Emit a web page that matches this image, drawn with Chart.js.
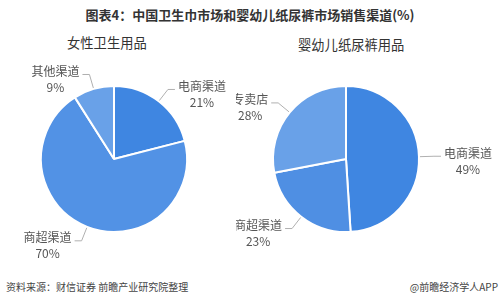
<!DOCTYPE html>
<html>
<head>
<meta charset="utf-8">
<script src="https://cdn.jsdelivr.net/npm/chart.js@4"></script>
<style>
  html, body { margin: 0; padding: 0; background: #fff; }
  body { width: 500px; height: 304px; position: relative; overflow: hidden;
         font-family: "Noto Sans CJK SC", "Noto Sans", sans-serif; color: #333; }
  .txt { position: absolute; white-space: nowrap; line-height: 1; }
  .box { position: absolute; top: 50px; height: 220px; }
</style>
</head>
<body>
<div class="txt" style="left:0;width:500px;text-align:center;top:8px;font-size:13px;font-weight:bold;color:#333;">图表4：中国卫生巾市场和婴幼儿纸尿裤市场销售渠道(%)</div>
<div class="txt" style="left:67px;top:36px;font-size:13.3px;color:#333;">女性卫生用品</div>
<div class="txt" style="left:298px;top:38px;font-size:13.3px;color:#333;">婴幼儿纸尿裤用品</div>
<div class="box" style="left:0;width:236px;"><canvas id="femaleChart"></canvas></div>
<div class="box" style="left:236px;width:264px;"><canvas id="babyChart"></canvas></div>
<div class="txt" style="left:6px;top:282px;font-size:10px;color:#444;">资料来源：财信证券 前瞻产业研究院整理</div>
<div class="txt" style="right:2px;top:282px;font-size:10px;color:#444;">@前瞻经济学人APP</div>
<script>
// 女性卫生用品
const femaleLabels = ["电商渠道", "商超渠道", "其他渠道"];
const femaleValues = [21, 70, 9];
// 婴幼儿纸尿裤用品
const babyLabels = ["电商渠道", "商超渠道", "专卖店"];
const babyValues = [49, 23, 28];

const femaleColors = ["#3f86e1", "#5292e5", "#69a1e8"];
const babyColors = ["#3f86e1", "#4f8fe3", "#69a1e8"];

// outside labels with leader lines, like the original
const sliceLabels = {
  id: "sliceLabels",
  afterDatasetsDraw(chart) {
    const ctx = chart.ctx;
    const meta = chart.getDatasetMeta(0);
    const names = chart.data.labels;
    const vals = chart.data.datasets[0].data;
    ctx.save();
    ctx.font = '12px "Noto Sans CJK SC", sans-serif';
    ctx.textBaseline = "middle";
    ctx.textAlign = "center";
    meta.data.forEach(function(arc, i) {
      const a = (arc.startAngle + arc.endAngle) / 2;
      const r = arc.outerRadius;
      const c = Math.cos(a), s = Math.sin(a);
      const side = c >= 0 ? 1 : -1;
      const x0 = arc.x + c * (r + 1), y0 = arc.y + s * (r + 1);
      const x1 = arc.x + c * (r + 15), y1 = arc.y + s * (r + 15);
      const x2 = x1 + side * 7;
      ctx.strokeStyle = "#b0b0b0";
      ctx.lineWidth = 1;
      ctx.beginPath();
      ctx.moveTo(x0, y0);
      ctx.lineTo(x1, y1);
      ctx.lineTo(x2, y1);
      ctx.stroke();
      const t1 = names[i], t2 = vals[i] + "%";
      const w = Math.max(ctx.measureText(t1).width, ctx.measureText(t2).width);
      const cx = x2 + side * (3 + w / 2);
      ctx.fillStyle = "#555";
      ctx.fillText(t1, cx, y1 - 3);
      ctx.fillText(t2, cx, y1 + 13);
    });
    ctx.restore();
  }
};

function makePie(id, labels, values, colors, padRight) {
  return new Chart(id, {
    type: "pie",
    data: {
      labels: labels,
      datasets: [{
        data: values,
        backgroundColor: colors,
        borderColor: "#fff",
        borderWidth: 2
      }]
    },
    options: {
      responsive: true,
      maintainAspectRatio: false,
      animation: false,
      radius: 73,
      layout: { padding: { left: 0, right: padRight, top: 0, bottom: 2 } },
      plugins: { legend: { display: false }, tooltip: { enabled: false } }
    },
    plugins: [sliceLabels]
  });
}

makePie("femaleChart", femaleLabels, femaleValues, femaleColors, 8);
makePie("babyChart", babyLabels, babyValues, babyColors, 44);
</script>
</body>
</html>
